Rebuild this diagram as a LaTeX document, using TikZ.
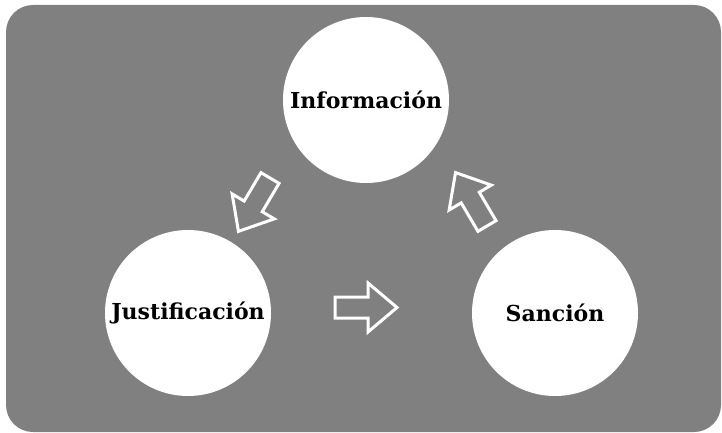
\documentclass[tikz,border=0pt]{standalone}
\usepackage{fontspec}
\setmainfont{DejaVu Serif}
\definecolor{bggray}{RGB}{128,128,128}
\tikzset{
  x=1pt, y=-1pt,
  circ/.style={circle, fill=white, minimum size=166pt, inner sep=0pt, font=\bfseries\fontsize{22}{26}\selectfont, text=black},
  arrowline/.style={draw=white, line width=3pt, line join=miter},
  blockarrow/.pic={\draw[arrowline] (0,-10.5) -- (33,-10.5) -- (33,-24.5) -- (62,0) -- (33,24.5) -- (33,10.5) -- (0,10.5) -- cycle;}
}
\begin{document}
\begin{tikzpicture}
\useasboundingbox (0,0) rectangle (722,433);
\fill[white] (0,0) rectangle (722,433);
\fill[bggray, rounded corners=27pt] (6,5) rectangle (721,432);
\node[circ] (info) at (366,100) {Información};
\node[circ] (just) at (188,313) {Justificación};
\node[circ] (sanc) at (555,313) {Sanción};
\pic at (270,178) [rotate=-120.6] {blockarrow};
\pic at (335,307.5) {blockarrow};
\pic at (487,226) [rotate=120.5] {blockarrow};
\end{tikzpicture}
\end{document}
